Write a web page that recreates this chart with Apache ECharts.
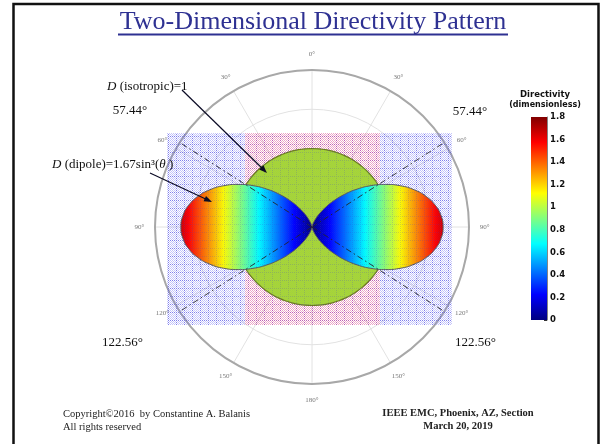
<!DOCTYPE html>
<html>
<head>
<meta charset="utf-8">
<script src="https://cdn.jsdelivr.net/npm/echarts@6/dist/echarts.min.js"></script>
<style>
  html, body { margin: 0; padding: 0; background: #fff; }
  #chart { width: 602px; height: 444px; }
</style>
</head>
<body>
<div id="chart"></div>
<script>
// Polar angle θ from the z-axis (degrees), one half-plane; the pattern is symmetric about z.
const thetaDeg = [0, 5, 10, 15, 20, 25, 30, 35, 40, 45, 50, 55, 60, 65, 70, 75, 80, 85, 90,
                  95, 100, 105, 110, 115, 120, 125, 130, 135, 140, 145, 150, 155, 160, 165, 170, 175, 180];
// Dipole directivity D = 1.67 sin^3(θ)
const dipoleD = [0, 0.0011, 0.0087, 0.0290, 0.0668, 0.1261, 0.2088, 0.3151, 0.4435, 0.5904,
                 0.7507, 0.9179, 1.0847, 1.2432, 1.3857, 1.5051, 1.5951, 1.6510, 1.67,
                 1.6510, 1.5951, 1.5051, 1.3857, 1.2432, 1.0847, 0.9179, 0.7507, 0.5904, 0.4435,
                 0.3151, 0.2088, 0.1261, 0.0668, 0.0290, 0.0087, 0.0011, 0];
// Isotropic directivity D = 1
const isotropicD = [1, 1, 1, 1, 1, 1, 1, 1, 1, 1, 1, 1, 1, 1, 1, 1, 1, 1, 1,
                    1, 1, 1, 1, 1, 1, 1, 1, 1, 1, 1, 1, 1, 1, 1, 1, 1, 1];
// Angles where the dipole and isotropic patterns cross
const crossingDeg = [57.44, 122.56];
const crossingLabels = ['57.44°', '122.56°'];
// Angular grid
const angleTicks = [0, 30, 60, 90, 120, 150, 180, 210, 240, 270, 300, 330];
const angleTickLabels = ['0°', '30°', '60°', '90°', '120°', '150°', '180°', '150°', '120°', '90°', '60°', '30°'];
// Colour bar scale
const colorbarMin = 0;
const colorbarMax = 1.8;
const colorbarStep = 0.2;

// ---- layout & styling ----
const CX = 312, CY = 227, R = 157;
const RMAX = 2;
const labelRadius = 2.2;
const crossLen = { 57.44: 2.52, 302.56: 2.53, 122.56: 2.4, 237.44: 2.62 };
const SERIF = '"Liberation Serif", "Times New Roman", serif';
const lobePeak = Math.max.apply(null, dipoleD);

function jetStops(scale) {
  const s = [[0, '#000080'], [0.125, '#0000ff'], [0.375, '#00ffff'], [0.5, '#80ff80'],
             [0.625, '#ffff00'], [0.875, '#ff0000'], [1, '#800000']];
  const out = [];
  for (const [t, c] of s) {
    const f = t / scale;
    if (f <= 1) out.push({ offset: f, color: c });
  }
  out.push({ offset: 1, color: '#d00000' });
  return out;
}
// the lobe spans 0..peak of the colour-bar range
const lobeStops = jetStops(lobePeak / colorbarMax);
const lobeReach = lobePeak * R / RMAX; // pixel reach of the lobe tip from the centre

function dotTile(dot, accent) {
  const c = document.createElement('canvas');
  c.width = 8; c.height = 8;
  const g = c.getContext('2d');
  for (let y = 0; y < 8; y++) {
    for (let x = 0; x < 8; x++) {
      if ((x + y) % 2 === 0) {
        g.fillStyle = (x % 8 === 0 || y % 8 === 0) ? accent : dot;
        g.fillRect(x, y, 1, 1);
      }
    }
  }
  return c;
}
const blueTile = dotTile('rgba(100,100,245,0.30)', 'rgba(80,80,235,0.6)');
const pinkTile = dotTile('rgba(245,70,120,0.42)', 'rgba(225,50,130,0.7)');
const veilTile = dotTile('rgba(80,80,230,0.08)', 'rgba(60,60,220,0.25)');

function halfCurve(values, side) {
  return thetaDeg.map((t, i) => [values[i], side > 0 ? t : 360 - t]);
}
const circleData = halfCurve(isotropicD, 1).concat(
  thetaDeg.slice(0, -1).map((t, i) => [isotropicD[i], 360 - t]).reverse()
);

function crossingSeries(angle) {
  return {
    type: 'line', coordinateSystem: 'polar', silent: true, clip: false,
    symbol: 'none', z: 6,
    lineStyle: { color: '#222', width: 0.9, type: [6, 3, 1.5, 3] },
    data: [[0, angle], [crossLen[angle], angle]]
  };
}

function arrow(x1, y1, x2, y2) {
  const a = Math.atan2(y2 - y1, x2 - x1), L = 8, W = 3;
  const c = Math.cos(a), s = Math.sin(a);
  return [
    { type: 'line', z: 30, shape: { x1, y1, x2: x2 - L * 0.8 * c, y2: y2 - L * 0.8 * s },
      style: { stroke: '#0b0b25', lineWidth: 1.2 } },
    { type: 'polygon', z: 30,
      shape: { points: [[x2, y2], [x2 - L * c + W * s, y2 - L * s - W * c], [x2 - L * c - W * s, y2 - L * s + W * c]] },
      style: { fill: '#0b0b25' } }
  ];
}

function txt(text, x, y, opts) {
  return { type: 'text', z: 30, style: Object.assign({
    text, x, y, fill: '#111', font: '13px ' + SERIF, align: 'left', verticalAlign: 'middle'
  }, opts || {}) };
}

function patternRect(x, y, w, h, tile, z) {
  return { type: 'rect', z, silent: true, shape: { x, y, width: w, height: h },
           style: { fill: { image: tile, repeat: 'repeat' } } };
}

const chart = echarts.init(document.getElementById('chart'), null, { renderer: 'canvas' });

chart.setOption({
  animation: false,
  polar: { center: [CX, CY], radius: R },
  angleAxis: {
    type: 'value', min: 0, max: 360, interval: 30, startAngle: 90, clockwise: true,
    axisLine: { lineStyle: { color: '#a8a8a8', width: 2 } },
    axisTick: { show: false }, axisLabel: { show: false },
    splitLine: { lineStyle: { color: '#e2e2e2', width: 1 } }
  },
  radiusAxis: {
    type: 'value', min: 0, max: RMAX, interval: 0.5,
    axisLine: { show: false }, axisTick: { show: false }, axisLabel: { show: false },
    splitLine: { lineStyle: { color: '#e2e2e2', width: 1 } }
  },
  grid: { left: 531, top: 117, width: 16, height: 203 },
  xAxis: { type: 'category', data: ['D'], show: false },
  yAxis: {
    type: 'value', min: colorbarMin, max: colorbarMax, interval: colorbarStep, position: 'right',
    axisLine: { show: true, lineStyle: { color: '#333', width: 0.6 } },
    axisTick: { show: true, inside: true, length: 3, lineStyle: { color: '#333' } },
    splitLine: { show: false },
    axisLabel: { color: '#111', fontSize: 8.5, fontWeight: 'bold', fontFamily: '"DejaVu Sans", sans-serif', margin: 3 }
  },
  series: [
    {
      name: 'isotropic', type: 'line', coordinateSystem: 'polar', silent: true, z: 2,
      symbol: 'none', smooth: true, data: circleData,
      lineStyle: { color: '#6d7d1c', width: 1.2 },
      areaStyle: { color: '#a9d934', opacity: 1 }
    },
    {
      name: 'dipole-right', type: 'line', coordinateSystem: 'polar', silent: true, z: 3,
      symbol: 'none', smooth: true, data: halfCurve(dipoleD, 1),
      lineStyle: { color: '#5a5a5a', width: 1 },
      areaStyle: { opacity: 1,
        color: new echarts.graphic.LinearGradient(CX, 0, CX + lobeReach, 0, lobeStops, true) }
    },
    {
      name: 'dipole-left', type: 'line', coordinateSystem: 'polar', silent: true, z: 3,
      symbol: 'none', smooth: true, data: halfCurve(dipoleD, -1),
      lineStyle: { color: '#5a5a5a', width: 1 },
      areaStyle: { opacity: 1,
        color: new echarts.graphic.LinearGradient(CX, 0, CX - lobeReach, 0, lobeStops, true) }
    },
    crossingSeries(crossingDeg[0]),
    crossingSeries(360 - crossingDeg[0]),
    crossingSeries(crossingDeg[1]),
    crossingSeries(360 - crossingDeg[1]),
    {
      name: 'angle-labels', type: 'scatter', coordinateSystem: 'polar', silent: true, clip: false,
      symbolSize: 1, itemStyle: { color: 'rgba(0,0,0,0)' },
      data: angleTicks.map(a => [labelRadius, a]),
      label: {
        show: true, position: 'inside', color: '#555', fontSize: 7, fontFamily: SERIF,
        formatter: p => angleTickLabels[p.dataIndex]
      }
    },
    {
      name: 'colorbar', type: 'bar', xAxisIndex: 0, yAxisIndex: 0, silent: true,
      barWidth: '100%', data: [colorbarMax],
      itemStyle: { color: new echarts.graphic.LinearGradient(0, 1, 0, 0, jetStops(1)) }
    }
  ],
  graphic: [].concat(
    [
      // slide frame
      { type: 'polyline', z: 40, shape: { points: [[13.5, 444], [13.5, 4], [598.5, 4], [598.5, 444]] },
        style: { stroke: '#111', lineWidth: 2.5, fill: null } },
      // title
      txt('Two-Dimensional Directivity Pattern', 313, 22,
        { align: 'center', fill: '#2e3192', font: '26px ' + SERIF }),
      { type: 'line', z: 30, shape: { x1: 118, y1: 34.5, x2: 508, y2: 34.5 },
        style: { stroke: '#2e3192', lineWidth: 1.8 } },
      // dotted backdrop panels behind the patterns, and a faint dotted veil on top
      patternRect(167, 133, 78, 192, blueTile, 1),
      patternRect(380, 133, 72, 192, blueTile, 1),
      patternRect(245, 133, 135, 192, pinkTile, 1),
      patternRect(167, 133, 285, 192, veilTile, 10)
    ],
    arrow(182, 90, 267, 173),
    arrow(150, 173, 212, 202),
    [
      txt('{i|D} (isotropic)=1', 107, 87, {
        rich: { i: { fontStyle: 'italic', fontSize: 13, fontFamily: SERIF, fill: '#111' } } }),
      txt('{i|D} (dipole)=1.67sin³({i|θ} )', 52, 165, {
        rich: { i: { fontStyle: 'italic', fontSize: 13, fontFamily: SERIF, fill: '#111' } } }),
      txt(crossingLabels[0], 130, 111, { align: 'center' }),
      txt(crossingLabels[0], 470, 112, { align: 'center' }),
      txt(crossingLabels[1], 143, 343, { align: 'right' }),
      txt(crossingLabels[1], 455, 343, { align: 'left' }),
      // colour bar caption
      txt('Directivity', 545, 95, { align: 'center', font: 'bold 8.5px "DejaVu Sans", sans-serif' }),
      txt('(dimensionless)', 545, 105, { align: 'center', font: 'bold 8px "DejaVu Sans", sans-serif' }),
      // footer
      txt('Copyright©2016  by Constantine A. Balanis', 63, 414, { font: '10.5px ' + SERIF, fill: '#222' }),
      txt('All rights reserved', 63, 427, { font: '10.5px ' + SERIF, fill: '#222' }),
      txt('IEEE EMC, Phoenix, AZ, Section', 458, 413, { align: 'center', font: 'bold 10.5px ' + SERIF, fill: '#222' }),
      txt('March 20, 2019', 458, 426, { align: 'center', font: 'bold 10.5px ' + SERIF, fill: '#222' })
    ]
  )
});
</script>
</body>
</html>
